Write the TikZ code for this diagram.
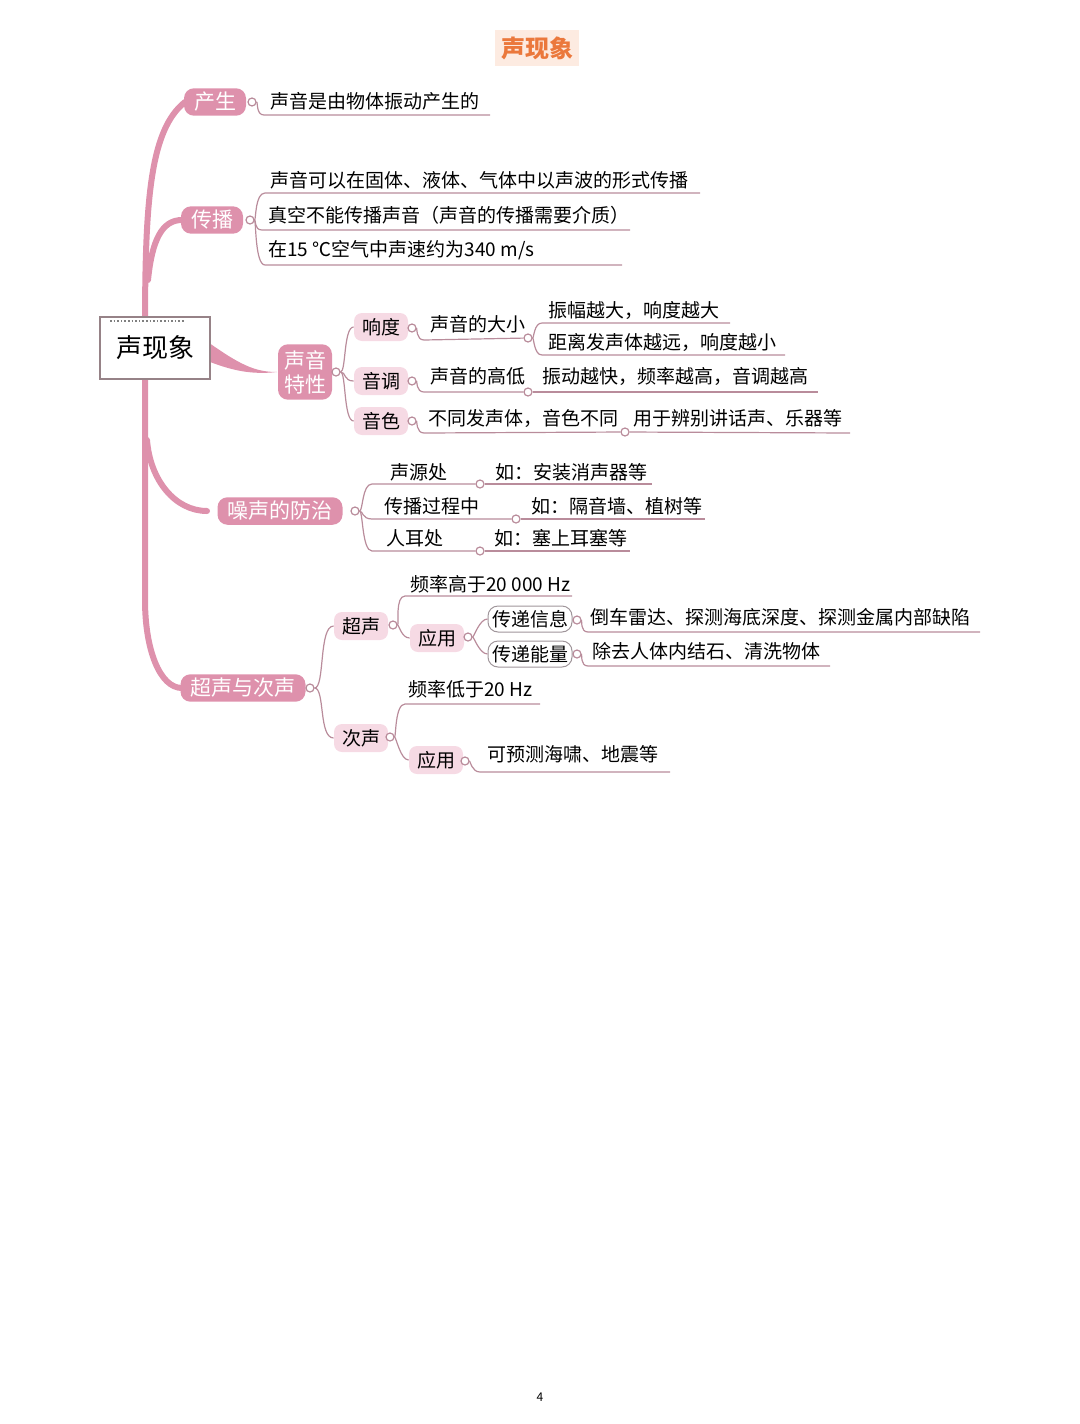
\documentclass[tikz,border=0pt]{standalone}
\usepackage{fontspec}
\setmainfont{Noto Sans CJK SC}
\begin{document}
\begin{tikzpicture}[x=0.5pt,y=-0.5pt,
  every node/.style={font=\fontsize{9.5pt}{11pt}\selectfont},
  ln/.style={draw={rgb,255:red,185;green,140;blue,155},line width=0.6pt},
  dot/.style={circle,draw={rgb,255:red,185;green,140;blue,155},fill=white,line width=0.6pt,inner sep=0,minimum size=4pt},
  mainbox/.style={fill={rgb,255:red,222;green,145;blue,172},text=white,rounded corners=5pt,inner xsep=5pt,inner ysep=2pt,font=\fontsize{10.5pt}{12pt}\selectfont},
  subbox/.style={fill={rgb,255:red,246;green,218;blue,228},rounded corners=4pt,inner xsep=4pt,inner ysep=2pt,minimum height=14pt},
  wbox/.style={draw={rgb,255:red,160;green,150;blue,155},line width=0.5pt,fill=white,rounded corners=5pt,inner sep=2pt,minimum height=13pt},
  tx/.style={anchor=west,inner sep=0},
  trunk/.style={draw={rgb,255:red,222;green,145;blue,172},line width=3pt,line cap=round}]
\useasboundingbox (0,0) rectangle (1080,1424);
\definecolor{pk}{RGB}{222,145,172}
% title
\node[fill={rgb,255:red,253;green,235;blue,225},text={rgb,255:red,235;green,120;blue,60},font=\fontsize{12pt}{13pt}\selectfont\bfseries,inner sep=3pt] (title) at (537,48) {声现象};
% trunk
\draw[trunk] (185,102) .. controls (150,130) and (145,200) .. (145,330) -- (145,600) .. controls (145,650) and (160,688) .. (182,688);
\draw[trunk] (148,280) .. controls (152,240) and (162,220) .. (182,220);
\draw[trunk] (147,440) .. controls (150,480) and (175,511) .. (207,511);
\fill[pk] (205,340) .. controls (240,365) and (255,372) .. (277,372) .. controls (250,375) and (230,370) .. (205,360) -- cycle;
% root
\node[draw={rgb,255:red,150;green,130;blue,135},line width=0.6pt,fill=white,minimum width=55pt,minimum height=31pt,font=\fontsize{13pt}{14pt}\selectfont] (root) at (155,348) {声现象};
\draw[densely dotted,line width=0.8pt,gray] (110,321) -- (185,321);
% main boxes
\node[mainbox] (cs) at (215,102) {产生};
\node[mainbox] (cb) at (212,220) {传播};
\node[mainbox,align=center,inner xsep=3pt,inner ysep=3pt] (tx) at (305,372) {声音\\特性};
\node[mainbox] (zs) at (280,511) {噪声的防治};
\node[mainbox] (cc) at (243,688) {超声与次声};
% 产生
\node[dot] (d1) at (252,102) {};
\node[tx] (t1) at (270,101) {声音是由物体振动产生的};
\coordinate (e1) at (490,115);
\draw[ln] (d1) .. controls +(6,0) and +(-8,0) .. (264,115) -- (e1);
% 传播
\node[dot] (d2) at (250,220) {};
\node[tx] at (270,180) {声音可以在固体、液体、气体中以声波的形式传播};
\node[tx] at (268,215) {真空不能传播声音（声音的传播需要介质）};
\node[tx] at (268,250) {在15 ℃空气中声速约为340 m/s};
\coordinate (e21) at (700,193); \coordinate (e22) at (630,230); \coordinate (e23) at (622,265);
\draw[ln] (d2) .. controls +(6,0) and +(-10,0) .. (265,193) -- (e21);
\draw[ln] (d2) .. controls +(6,0) and +(-8,0) .. (262,230) -- (e22);
\draw[ln] (d2) .. controls +(6,0) and +(-10,0) .. (265,265) -- (e23);
% 声音特性
\node[dot] (d3) at (336,372) {};
\node[subbox] (xd) at (381,327) {响度};
\node[subbox] (yd) at (381,381) {音调};
\node[subbox] (ys) at (381,421) {音色};
\draw[ln] (d3) .. controls +(10,0) and +(-10,0) .. (xd.west);
\draw[ln] (d3) .. controls +(10,0) and +(-10,0) .. (yd.west);
\draw[ln] (d3) .. controls +(10,0) and +(-10,0) .. (ys.west);
\node[dot] (dx) at (412,328) {};
\node[tx] at (430,324) {声音的大小};
\node[dot] (dx2) at (528,338) {};
\draw[ln] (dx) .. controls +(5,0) and +(-8,0) .. (424,340) -- (dx2);
\node[tx] at (548,310) {振幅越大，响度越大};
\node[tx] at (548,342) {距离发声体越远，响度越小};
\coordinate (ex1) at (730,323); \coordinate (ex2) at (785,355);
\draw[ln] (dx2) .. controls +(6,0) and +(-8,0) .. (542,323) -- (ex1);
\draw[ln] (dx2) .. controls +(6,0) and +(-8,0) .. (542,355) -- (ex2);
\node[dot] (dy) at (412,381) {};
\node[tx] at (430,376) {声音的高低};
\node[dot] (dy2) at (528,392) {};
\draw[ln] (dy) .. controls +(5,0) and +(-8,0) .. (424,392) -- (dy2);
\node[tx] at (542,376) {振动越快，频率越高，音调越高};
\coordinate (ey) at (818,392);
\draw[ln] (dy2) -- (ey);
\node[dot] (dz) at (412,421) {};
\node[tx] at (428,418) {不同发声体，音色不同};
\node[dot] (dz2) at (625,432) {};
\draw[ln] (dz) .. controls +(5,0) and +(-8,0) .. (424,433) -- (dz2);
\node[tx] at (633,418) {用于辨别讲话声、乐器等};
\coordinate (ez) at (850,433);
\draw[ln] (dz2) -- (ez);
% 噪声的防治
\node[dot] (d4) at (355,511) {};
\node[tx] at (390,472) {声源处};
\node[tx] at (384,506) {传播过程中};
\node[tx] at (386,538) {人耳处};
\node[dot] (n1) at (480,484) {};
\node[dot] (n2) at (516,519) {};
\node[dot] (n3) at (480,551) {};
\draw[ln] (d4) .. controls +(8,0) and +(-10,0) .. (372,484) -- (n1);
\draw[ln] (d4) .. controls +(8,0) and +(-10,0) .. (372,519) -- (n2);
\draw[ln] (d4) .. controls +(8,0) and +(-10,0) .. (372,551) -- (n3);
\node[tx] at (495,472) {如：安装消声器等};
\node[tx] at (531,506) {如：隔音墙、植树等};
\node[tx] at (494,538) {如：塞上耳塞等};
\coordinate (m1) at (652,484); \coordinate (m2) at (705,519); \coordinate (m3) at (630,551);
\draw[ln] (n1) -- (m1); \draw[ln] (n2) -- (m2); \draw[ln] (n3) -- (m3);
% 超声与次声
\node[dot] (d5) at (310,688) {};
\node[subbox] (cz) at (361,626) {超声};
\node[subbox] (ci) at (361,738) {次声};
\draw[ln] (d5) .. controls +(15,0) and +(-15,0) .. (cz.west);
\draw[ln] (d5) .. controls +(15,0) and +(-15,0) .. (ci.west);
\node[dot] (dc) at (393,625) {};
\node[tx] at (410,584) {频率高于20 000 Hz};
\coordinate (f1) at (572,596);
\node[subbox] (yy1) at (437,638) {应用};
\draw[ln] (dc) .. controls +(6,0) and +(-10,0) .. (405,596) -- (f1);
\draw[ln] (dc) .. controls +(6,0) and +(-8,0) .. (yy1.west);
\node[dot] (dyy1) at (468,637) {};
\node[wbox] (xx) at (530,619) {传递信息};
\node[wbox] (nl) at (530,654) {传递能量};
\draw[ln] (dyy1) .. controls +(6,0) and +(-8,0) .. (xx.west);
\draw[ln] (dyy1) .. controls +(6,0) and +(-8,0) .. (nl.west);
\node[dot] (dxx) at (577,620) {};
\node[dot] (dnl) at (577,654) {};
\node[tx] at (590,617) {倒车雷达、探测海底深度、探测金属内部缺陷};
\node[tx] at (592,651) {除去人体内结石、清洗物体};
\coordinate (g1) at (980,632); \coordinate (g2) at (830,666);
\draw[ln] (dxx) .. controls +(5,0) and +(-8,0) .. (588,632) -- (g1);
\draw[ln] (dnl) .. controls +(5,0) and +(-8,0) .. (588,666) -- (g2);
\node[dot] (dci) at (390,737) {};
\node[tx] at (408,689) {频率低于20 Hz};
\coordinate (f2) at (540,704);
\node[subbox] (yy2) at (436,760) {应用};
\draw[ln] (dci) .. controls +(6,0) and +(-10,0) .. (405,704) -- (f2);
\draw[ln] (dci) .. controls +(6,0) and +(-8,0) .. (yy2.west);
\node[dot] (dyy2) at (465,761) {};
\node[tx] at (487,754) {可预测海啸、地震等};
\coordinate (f3) at (670,772);
\draw[ln] (dyy2) .. controls +(5,0) and +(-8,0) .. (480,772) -- (f3);
% page number
\node[font=\fontsize{6pt}{7pt}\selectfont] (pg) at (540,1397) {4};
\end{tikzpicture}
\end{document}
